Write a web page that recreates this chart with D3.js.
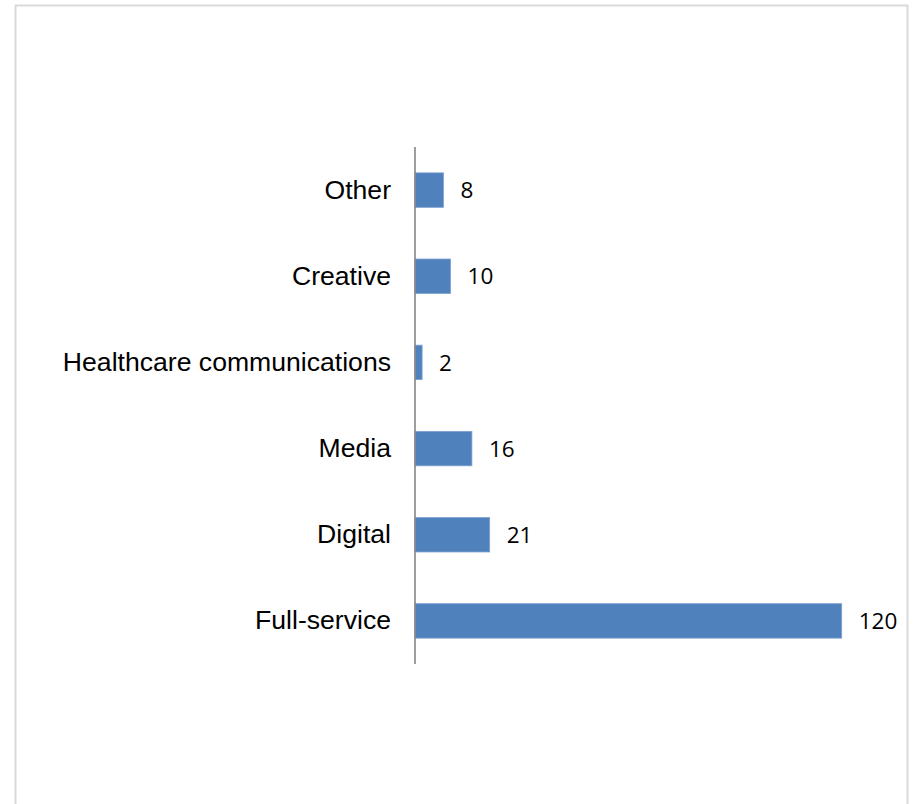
<!DOCTYPE html>
<html>
<head>
<meta charset="utf-8">
<script src="https://cdn.jsdelivr.net/npm/d3@7/dist/d3.min.js"></script>
<style>
  html, body { margin: 0; padding: 0; background: #fff; }
  svg { display: block; }
</style>
</head>
<body>
<svg id="chart" width="917" height="804"></svg>
<script>
// Agency types, listed top to bottom
const categories = ["Other", "Creative", "Healthcare communications", "Media", "Digital", "Full-service"];
const counts = [8, 10, 2, 16, 21, 120];

const svg = d3.select("#chart");
const W = 917, H = 804;

// Outer chart frame (open at the bottom edge)
svg.append("path")
  .attr("d", `M15.5,${H} V5.5 H907.5 V${H}`)
  .attr("fill", "none")
  .attr("stroke", "#d9d9d9")
  .attr("stroke-width", 2);

const plot = { left: 415, top: 147, bottom: 664 };

const y = d3.scaleBand()
  .domain(categories)
  .range([plot.top, plot.bottom])
  .paddingInner(0.6)
  .paddingOuter(0.3);

const x = d3.scaleLinear()
  .domain([0, 120])
  .range([plot.left, 841.7]);

// Bars
svg.append("g")
  .selectAll("rect")
  .data(categories)
  .join("rect")
  .attr("x", x(0))
  .attr("y", d => y(d))
  .attr("width", (d, i) => x(counts[i]) - x(0))
  .attr("height", y.bandwidth())
  .attr("fill", "#4f81bd")
  .attr("stroke", "#7ea1d0")
  .attr("stroke-width", 0.8);

// Category axis on the left, labels only
const yAxis = svg.append("g")
  .attr("transform", `translate(${plot.left},0)`)
  .call(d3.axisLeft(y).tickSize(0).tickPadding(24));
yAxis.select(".domain").remove();
yAxis.selectAll("text")
  .attr("font-family", "'Liberation Sans', Arial, sans-serif")
  .attr("font-size", 26.6)
  .attr("fill", "#000");

// Vertical axis line
svg.append("line")
  .attr("x1", plot.left).attr("x2", plot.left)
  .attr("y1", plot.top).attr("y2", plot.bottom)
  .attr("stroke", "#868686")
  .attr("stroke-width", 1.6);

// Value labels
svg.append("g")
  .selectAll("text")
  .data(categories)
  .join("text")
  .attr("x", (d, i) => x(counts[i]) + 17)
  .attr("y", d => y(d) + y.bandwidth() / 2)
  .attr("dy", "0.36em")
  .attr("font-family", "'Open Sans', Calibri, sans-serif")
  .attr("font-size", 22.5)
  .attr("fill", "#000")
  .text((d, i) => counts[i]);
</script>
</body>
</html>
